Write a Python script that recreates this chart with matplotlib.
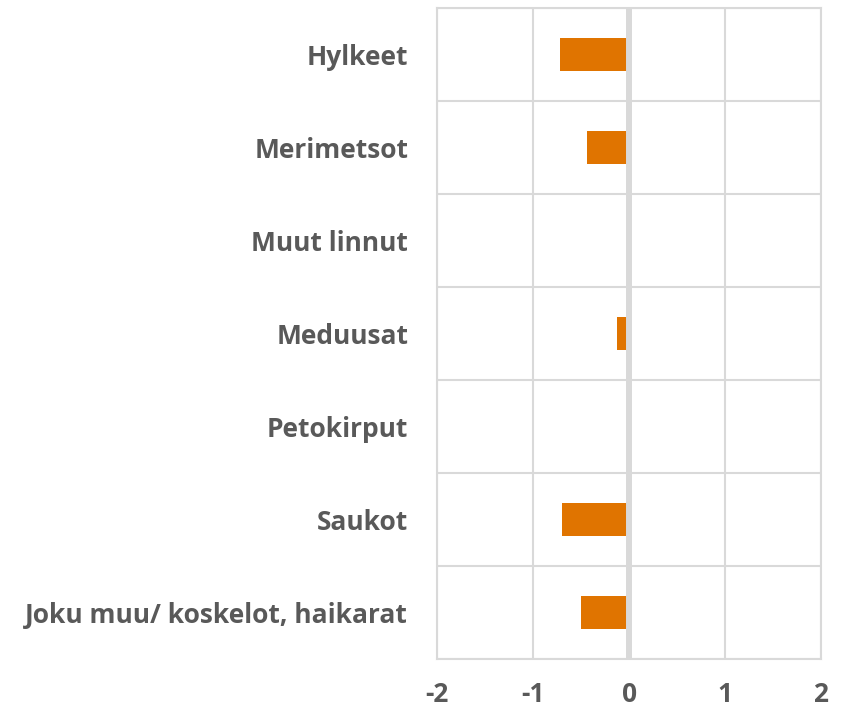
import matplotlib.pyplot as plt
import numpy as np

categories = ['Hylkeet', 'Merimetsot', 'Muut linnut', 'Meduusat',
              'Petokirput', 'Saukot', 'Joku muu/ koskelot, haikarat']
values = [-0.72, -0.44, 0.0, -0.13, 0.0, -0.70, -0.50]
xticks = [-2, -1, 0, 1, 2]

plt.rcParams['font.family'] = ['Open Sans', 'DejaVu Sans']

grid_color = '#d9d9d9'
text_color = '#595959'

fig = plt.figure(figsize=(8.51, 7.12), dpi=100)
ax = fig.add_axes([0.514, 0.0744, 0.4505, 0.9144])

y = np.arange(len(categories))
ax.barh(y, values, height=0.36, color='#e07400', zorder=2)

ax.set_xlim(-2, 2)
ax.set_ylim(len(categories) - 0.5, -0.5)
ax.set_xticks(xticks)
ax.set_xticklabels([str(t) for t in xticks])
ax.set_yticks(y)
ax.set_yticklabels(categories)

# horizontal separators between categories
ax.set_yticks(np.arange(-0.5, len(categories), 1), minor=True)
ax.grid(which='minor', axis='y', color=grid_color, linewidth=1.5, zorder=1)
ax.grid(which='major', axis='x', color=grid_color, linewidth=1.5, zorder=1)
ax.axvline(0, color=grid_color, linewidth=4.3, zorder=3)

for s in ax.spines.values():
    s.set_color(grid_color)
    s.set_linewidth(1.5)

ax.tick_params(axis='both', which='both', length=0)
ax.tick_params(axis='y', pad=21)
ax.tick_params(axis='x', pad=15.5)
for lbl in ax.get_xticklabels() + ax.get_yticklabels():
    lbl.set_fontsize(19)
    lbl.set_fontweight('bold')
    lbl.set_color(text_color)

fig.savefig('out.png', dpi=100)
